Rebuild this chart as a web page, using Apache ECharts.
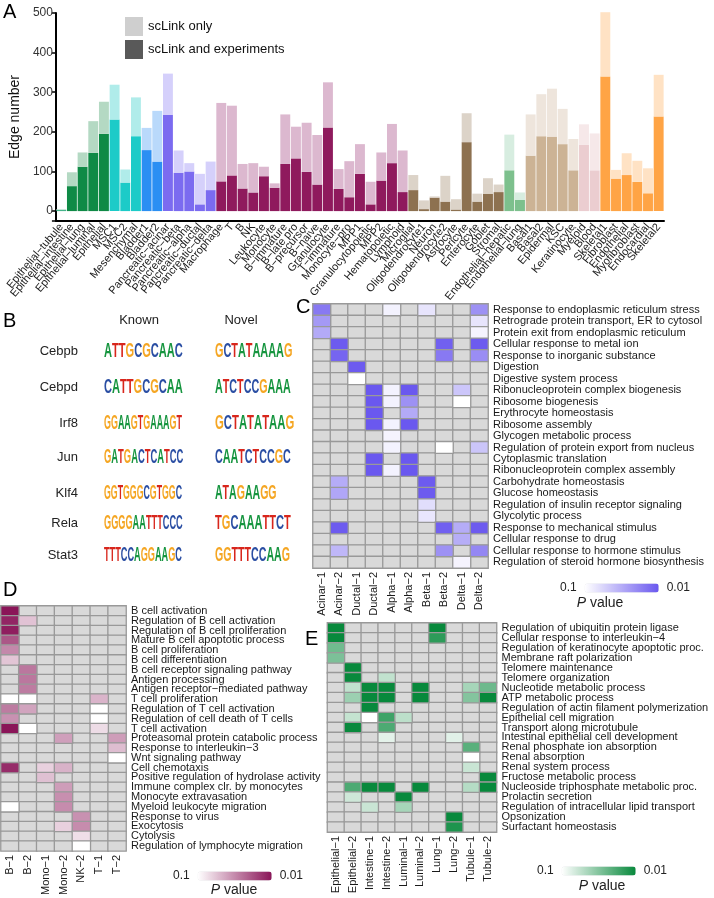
<!DOCTYPE html>
<html><head><meta charset="utf-8">
<script src="https://cdn.jsdelivr.net/npm/echarts@6/dist/echarts.min.js"></script>
<style>html,body{margin:0;padding:0;background:#fff}#c{width:714px;height:898px}</style>
</head><body><div id="c"></div>
<script>
const FONT = '"Liberation Sans", Arial, Helvetica, sans-serif';
const M = '\u2212';

// ---------- Panel A data ----------
const cellTypes = ['Epithelial'+M+'tubule','Epithelial'+M+'intestine','Epithelial'+M+'lung','Epithelial'+M+'luminal','Epithelial','MSC1','MSC2','Mesenchymal','Bladder1','Bladder2',
 'Pancreatic'+M+'acinar','Pancreatic'+M+'beta','Pancreatic'+M+'alpha','Pancreatic'+M+'ductal','Pancreatic'+M+'delta','Macrophage','T','B','NK','Leukocyte',
 'Monocyte','B'+M+'immature','B'+M+'late pro','B'+M+'precursor','B'+M+'naive','Granulocyte','T'+M+'immature','Monocyte'+M+'pro','MPP1','Granulocytopoietic',
 'MPP2','Hematopoietic','Lymphoid','Microglial','Oligodendrocyte1','Neuron','Oligodendrocyte2','Astrocyte','Pericyte','Enterocyte',
 'Goblet','Stromal','Endothelial'+M+'hepatic','Endothelial'+M+'lung','Basal1','Basal2','Epidermal','KSC','Keratinocyte','Myeloid',
 'Blood','Skeletal1','Fibroblast','Endothelial','Myofibroblast','Endocardial','Skeletal2'];
const tissueGroup = ['kidney','epi','epi','epi','epi','mes','mes','mes','bladder','bladder',
 'panc','panc','panc','panc','panc','imm','imm','imm','imm','imm',
 'imm','imm','imm','imm','imm','imm','imm','imm','imm','imm',
 'imm','imm','imm','neu','neu','neu','neu','neu','neu','neu',
 'neu','neu','endo','endo','skin','skin','skin','skin','skin','blood',
 'blood','mus','mus','mus','mus','mus','mus'];
const totalEdges = [5,98,148,227,276,319,105,287,210,253,
 347,153,121,94,125,273,266,119,121,112,
 70,244,213,223,192,325,106,126,169,74,
 148,220,153,91,27,37,89,30,247,44,
 83,67,193,47,244,295,309,258,182,219,
 196,502,104,146,127,108,344];
const sharedEdges = [3,63,112,147,195,231,72,189,154,125,
 243,97,100,17,53,75,90,57,47,88,
 59,119,133,99,67,211,56,35,94,17,
 77,121,48,53,5,34,24,4,174,24,
 44,48,103,28,140,189,188,169,103,167,
 103,340,82,91,74,45,239];
const groupColors = {
 kidney:['#45b38a','#bfe3d3'], epi:['#0f8a46','#b4d9c3'], mes:['#1ccbc8','#b0ecea'],
 bladder:['#2b8ff3','#b9d9fb'], panc:['#7b6bf0','#d5d0fb'], imm:['#8f1a5d','#dcb8cf'],
 neu:['#8d7150','#dcd3c8'], endo:['#7dc08d','#d7ede0'], skin:['#ccb395','#eee5dc'],
 blood:['#ebcdd0','#f6e8e9'], mus:['#ffa445','#ffe2c4']
};
const onlyEdges = totalEdges.map((t,i)=>t-sharedEdges[i]);

// ---------- Panel B data ----------
const tfNames = ['Cebpb','Cebpd','Irf8','Jun','Klf4','Rela','Stat3'];
const knownMotifs = ['ATTGCGCAAC','CATTGCGCAA','GGAAGTGAAAGT','GATGACTCATCC','GGTGGGCGTGGC','GGGGAATTTCCC','TTTCCAGGAAGC'];
const novelMotifs = ['GCTATAAAAG','ATCTCCGAAA','GCTATATAAG','CAATCTCCGC','ATAGAAGG','TGCAAATTCT','GGTTTCCAAG'];
const baseColors = {A:'#16953f',C:'#2a4ea3',G:'#f5a623',T:'#d8261c'};

// ---------- Panel C data (-log10 P; 0 = not significant) ----------
const cCols = ['Acinar'+M+'1','Acinar'+M+'2','Ductal'+M+'1','Ductal'+M+'2','Alpha'+M+'1','Alpha'+M+'2','Beta'+M+'1','Beta'+M+'2','Delta'+M+'1','Delta'+M+'2'];
const cRows = ['Response to endoplasmic reticulum stress','Retrograde protein transport, ER to cytosol','Protein exit from endoplasmic reticulum','Cellular response to metal ion','Response to inorganic substance','Digestion','Digestive system process','Ribonucleoprotein complex biogenesis','Ribosome biogenesis','Erythrocyte homeostasis','Ribosome assembly','Glycogen metabolic process','Regulation of protein export from nucleus','Cytoplasmic translation','Ribonucleoprotein complex assembly','Carbohydrate homeostasis','Glucose homeostasis','Regulation of insulin receptor signaling','Glycolytic process','Response to mechanical stimulus','Cellular response to drug','Cellular response to hormone stimulus','Regulation of steroid hormone biosynthesis'];
const cVals = [
 [1.8,0,0,0,1.08,0,1.16,0,0,1.66],
 [1.61,0,0,0,0,0,0,0,0,1.16],
 [1.51,0,0,0,0,0,0,0,0,1.07],
 [0,1.98,0,0,0,0,0,1.95,0,1.98],
 [0,1.92,0,0,0,0,0,1.8,0,1.68],
 [0,0,1.98,0,0,0,0,0,0,0],
 [0,0,1.0,0,0,0,0,0,0,0],
 [0,0,0,2,1.08,2,0,0,1.34,0],
 [0,0,0,2,1.08,1.66,0,0,1.0,0],
 [0,0,0,2,0,1.51,0,0,0,0],
 [0,0,0,2,1.08,2,0,0,0,0],
 [0,0,0,0,1.07,0,0,0,0,0],
 [0,0,0,0,1.08,0,0,1.0,0,1.35],
 [0,0,0,2,0,2,0,0,0,0],
 [0,0,0,2,1.08,2,0,0,0,0],
 [0,1.5,0,0,0,0,1.98,0,0,0],
 [0,1.53,0,0,0,0,1.98,0,0,0],
 [0,0,0,0,0,0,1.2,0,0,0],
 [0,0,0,0,0,0,1.15,0,0,0],
 [0,1.98,0,0,0,0,0,1.95,1.5,1.98],
 [0,0,0,0,0,0,0,0,1.49,0],
 [0,1.43,0,0,0,0,0,1.66,0,1.72],
 [0,0,0,0,0,0,0,0,1.07,0]
];

// ---------- Panel D data ----------
const dCols = ['B'+M+'1','B'+M+'2','Mono'+M+'1','Mono'+M+'2','NK'+M+'2','T'+M+'1','T'+M+'2'];
const dRows = ['B cell activation','Regulation of B cell activation','Regulation of B cell proliferation','Mature B cell apoptotic process','B cell proliferation','B cell differentiation','B cell receptor signaling pathway','Antigen processing','Antigen receptor'+M+'mediated pathway','T cell proliferation','Regulation of T cell activation','Regulation of cell death of T cells','T cell activation','Proteasomal protein catabolic process','Response to interleukin'+M+'3','Wnt signaling pathway','Cell chemotaxis','Positive regulation of hydrolase activity','Immune complex clr. by monocytes','Monocyte extravasation','Myeloid leukocyte migration','Response to virus','Exocytosis','Cytolysis','Regulation of lymphocyte migration'];
const dVals = [
 [2.0,0,0,0,0,0,0],
 [1.93,1.26,0,0,0,0,0],
 [1.96,0,0,0,0,0,0],
 [1.72,0,0,0,0,0,0],
 [1.51,0,0,0,0,0,0],
 [1.25,0,0,0,0,0,0],
 [0,1.58,0,0,0,0,0],
 [0,1.58,0,0,0,0,0],
 [0,1.56,0,0,0,0,0],
 [1.0,1.0,0,0,0,1.32,0],
 [1.56,1.39,0,0,0,1.0,0],
 [1.47,0,0,0,0,1.0,0],
 [2.0,1.0,0,0,0,1.15,0],
 [0,0,0,1.41,0,0,1.42],
 [0,0,0,0,0,0,1.28],
 [0,0,0,0,0,0,1.0],
 [1.9,0,1.2,1.33,0,0,0],
 [0,0,1.27,0,0,0,0],
 [0,0,0,1.42,0,0,0],
 [0,0,0,1.48,0,0,0],
 [1.0,0,0,1.49,0,0,0],
 [0,0,0,0,1.47,0,0],
 [0,0,0,1.2,1.49,0,0],
 [0,0,0,0,1.14,0,0],
 [0,0,0,0,1.0,0,0]
];

// ---------- Panel E data ----------
const eCols = ['Epithelial'+M+'1','Epithelial'+M+'2','Intestine'+M+'1','Intestine'+M+'2','Luminal'+M+'1','Luminal'+M+'2','Lung'+M+'1','Lung'+M+'2','Tubule'+M+'1','Tubule'+M+'2'];
const eRows = ['Regulation of ubiquitin protein ligase','Cellular response to interleukin'+M+'4','Regulation of keratinocyte apoptotic proc.','Membrane raft polarization','Telomere maintenance','Telomere organization','Nucleotide metabolic process','ATP metabolic process','Regulation of actin filament polymerization','Epithelial cell migration','Transport along microtubule','Intestinal epithelial cell development','Renal phosphate ion absorption','Renal absorption','Renal system process','Fructose metabolic process','Nucleoside triphosphate metabolic proc.','Prolactin secretion','Regulation of intracellular lipid transport','Opsonization','Surfactant homeostasis'];
const eVals = [
 [2,0,0,0,0,0,2,0,0,0],
 [2,0,0,0,0,0,1.85,0,0,0],
 [1.58,0,0,0,0,0,0,0,0,0],
 [1.53,0,0,0,0,0,0,0,0,0],
 [0,2,0,0,0,0,0,0,0,0],
 [0,2,0,1.25,0,0,0,0,0,0],
 [0,1.25,2,2,0,2,0,0,1.36,1.59],
 [0,1.4,2,2,0,2,0,0,1.5,2],
 [0,0,2,0,0,0,0,0,0,0],
 [0,1.24,1.0,1.78,1.27,0,0,0,0,0],
 [0,2,0,1.72,0,0,0,0,0,0],
 [0,0,0,1.11,0,0,0,1.12,0,0],
 [0,0,0,0,0,0,0,0,1.67,0],
 [0,0,0,0,0,0,0,0,1.0,0],
 [0,0,0,0,0,0,0,0,1.22,0],
 [0,0,0,0,0,0,0,0,0,2],
 [0,1.72,2,2,0,2,0,0,1.3,2],
 [0,1.2,0,0,2,0,0,0,0,0],
 [0,0,1.22,0,1.36,0,0,0,0,0],
 [0,0,0,0,0,0,0,2,0,0],
 [0,0,0,0,0,0,0,1.91,0,0]
];

// ---------- build ----------
function sigCells(vals){const out=[];vals.forEach((r,ri)=>r.forEach((v,ci)=>{if(v>0)out.push([ci,ri,v]);}));return out;}
function naCells(vals){const out=[];vals.forEach((r,ri)=>r.forEach((v,ci)=>{if(!(v>0))out.push([ci,ri,0]);}));return out;}
const chart = echarts.init(document.getElementById('c'), null, {renderer:'canvas'});

const hmX = (cols, gi) => ({type:'category', gridIndex:gi, data:cols, axisLine:{show:false}, axisTick:{show:false},
  axisLabel:{rotate:90, interval:0, margin:4, fontSize:11, color:'#1a1a1a', fontFamily:FONT}, splitArea:{show:false}});
const hmY = (rows, gi) => ({type:'category', gridIndex:gi, data:rows, inverse:true, position:'right', axisLine:{show:false}, axisTick:{show:false},
  axisLabel:{interval:0, margin:5, fontSize:11, color:'#1a1a1a', fontFamily:FONT}});
const hmNA = (vals, i) => ({type:'heatmap', xAxisIndex:i, yAxisIndex:i, data:naCells(vals),
  itemStyle:{color:'#d9d9d9', borderColor:'#999999', borderWidth:1.3}, emphasis:{disabled:true}});
const hmSig = (vals, i) => ({type:'heatmap', xAxisIndex:i, yAxisIndex:i, data:sigCells(vals),
  itemStyle:{borderColor:'#999999', borderWidth:1.3}, emphasis:{disabled:true}});
const vm = (si, color, left, top) => ({type:'continuous', seriesIndex:si, dimension:2, min:1, max:2,
  inRange:{color:['#ffffff', color]}, orient:'horizontal',
  left:left, top:top, itemWidth:9, itemHeight:74, text:['0.01','0.1'], textGap:8, calculable:false, hoverLink:false,
  textStyle:{fontSize:12, color:'#222', fontFamily:FONT}});

// Panel B graphics
const graphics = [];
const letters = [['A',3,2],['B',3,311],['C',296,297],['D',3,580],['E',305,629]];
letters.forEach(([t,x,y])=>graphics.push({type:'text', x, y, style:{text:t, fontSize:20, fontFamily:FONT, fill:'#000'}}));
graphics.push({type:'text', x:139, y:320, style:{text:'Known', fontSize:13, fontFamily:FONT, fill:'#222', textAlign:'center', textVerticalAlign:'middle'}});
graphics.push({type:'text', x:241, y:320, style:{text:'Novel', fontSize:13, fontFamily:FONT, fill:'#222', textAlign:'center', textVerticalAlign:'middle'}});
const rowY = [351, 387, 423, 457, 493, 523, 555];
const mctx = document.createElement('canvas').getContext('2d');
const LOGO_FS = 21;
mctx.font = 'bold ' + LOGO_FS + 'px ' + FONT;
const rich = {};
Object.keys(baseColors).forEach(k=>{rich[k]={fill:baseColors[k], color:baseColors[k], fontSize:LOGO_FS, fontWeight:'bold', fontFamily:FONT};});
function motif(seq, x, y, w){
  const nat = mctx.measureText(seq).width;
  graphics.push({type:'text', x, y, scaleX: w/nat, scaleY:1,
    style:{text: seq.split('').map(ch=>'{'+ch+'|'+ch+'}').join(''), rich, textVerticalAlign:'middle', fontSize:LOGO_FS, fontWeight:'bold', fontFamily:FONT}});
}
tfNames.forEach((n,i)=>{
  graphics.push({type:'text', x:78, y:rowY[i], style:{text:n, fontSize:13, fontFamily:FONT, fill:'#222', textAlign:'right', textVerticalAlign:'middle'}});
  motif(knownMotifs[i], 104, rowY[i], 78);
  motif(novelMotifs[i], 215, rowY[i], novelMotifs[i].length*7.5);
});
const pv = (x,y)=>({type:'text', x, y, style:{text:'{i|P} value', rich:{i:{fontStyle:'italic', fontSize:14, fontFamily:FONT, fill:'#222'}}, fontSize:14, fontFamily:FONT, fill:'#222', textAlign:'center', textVerticalAlign:'middle'}});
graphics.push(pv(600,603), pv(234,890), pv(602,886));

chart.setOption({
  animation:false,
  textStyle:{fontFamily:FONT},
  grid:[
    {left:52, right:50, top:13, bottom:677},
    {left:313, top:304, width:175, height:264},
    {left:1, top:606, width:125, height:246},
    {left:327.5, top:623, width:169, height:209}
  ],
  legend:{data:[{name:'scLink only', itemStyle:{color:'#cfcfcf'}},{name:'scLink and experiments', itemStyle:{color:'#595959'}}],
    orient:'vertical', left:120, top:12, itemWidth:18, itemHeight:19, itemGap:4, icon:'rect', selectedMode:false,
    textStyle:{fontSize:13, color:'#111', fontFamily:FONT}},
  xAxis:[
    {type:'category', gridIndex:0, data:cellTypes,
     axisLine:{onZero:false, lineStyle:{color:'#000', width:2}},
     axisTick:{alignWithLabel:true, length:4, lineStyle:{color:'#000', width:1.5}},
     axisLabel:{rotate:50, interval:0, margin:4, fontSize:11, color:'#1a1a1a', fontFamily:FONT}},
    hmX(cCols,1), hmX(dCols,2), hmX(eCols,3)
  ],
  yAxis:[
    {type:'value', gridIndex:0, min:-25, max:500, splitNumber:5,
     name:'Edge number', nameLocation:'middle', nameGap:32, nameTextStyle:{fontSize:14, color:'#111', fontFamily:FONT},
     axisLine:{show:true, lineStyle:{color:'#000', width:2}},
     axisTick:{show:true, length:4, lineStyle:{color:'#000', width:1.5}},
     axisLabel:{fontSize:12, color:'#333', margin:3, formatter:v=> v<0 ? '' : String(v)},
     splitLine:{show:false}},
    hmY(cRows,1), hmY(dRows,2), hmY(eRows,3)
  ],
  visualMap:[ vm(3,'#6a58ef',545,567), vm(5,'#8a1558',158,855), vm(7,'#08893c',522,850) ],
  series:[
    {name:'scLink and experiments', type:'bar', stack:'a', xAxisIndex:0, yAxisIndex:0, data:sharedEdges, barCategoryGap:'7%', clip:false,
     itemStyle:{color:p=>groupColors[tissueGroup[p.dataIndex]][0]}},
    {name:'scLink only', type:'bar', stack:'a', xAxisIndex:0, yAxisIndex:0, data:onlyEdges, barCategoryGap:'7%', clip:false,
     itemStyle:{color:p=>groupColors[tissueGroup[p.dataIndex]][1]}},
    hmNA(cVals,1), hmSig(cVals,1), hmNA(dVals,2), hmSig(dVals,2), hmNA(eVals,3), hmSig(eVals,3)
  ],
  graphic:graphics
});
</script></body></html>
